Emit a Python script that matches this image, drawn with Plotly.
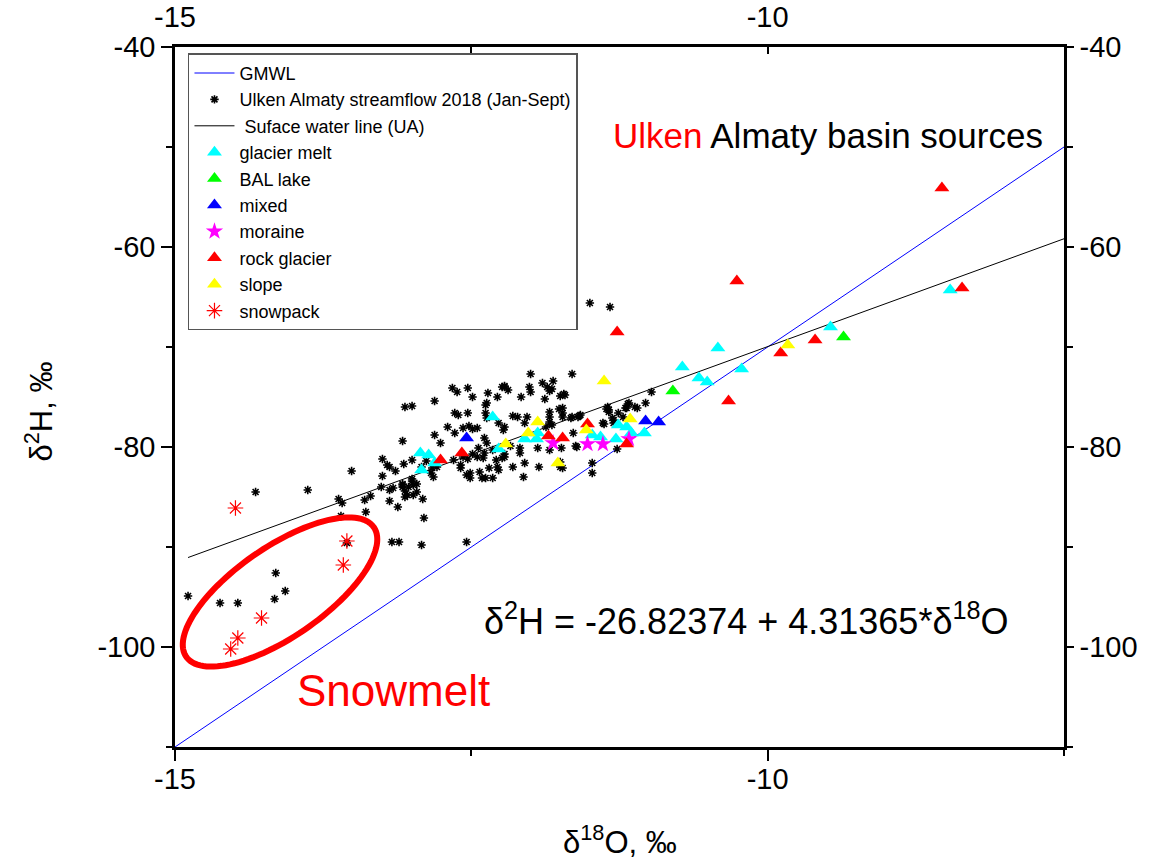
import numpy as np
import plotly.graph_objects as go

# ---------------- data ----------------
gmwl_slope, gmwl_intercept = 8.0, 10.0
gmwl_x = [-15.0, -7.5]

sw_slope, sw_intercept = 4.31365, -26.82374
sw_x = [-14.89, -7.5]

sf_x = [
    -14.89, -14.62, -14.47, -14.32, -14.16, -14.15, -14.07, -13.88, -13.62, -13.59,
    -13.60, -13.55, -13.51, -13.40, -13.35, -13.39, -13.26, -13.25, -13.25, -13.21,
    -13.19, -13.14, -13.19, -13.16, -13.19, -13.12, -13.17, -13.11, -13.08, -13.08,
    -13.06, -13.04, -13.03, -13.00, -12.96, -12.96, -12.91, -12.90, -13.08, -13.06,
    -13.00, -12.81, -13.07, -13.00, -12.92, -12.88, -12.81, -12.76, -12.70, -12.64,
    -12.66, -12.62, -12.53, -12.64, -12.61, -12.53, -12.57, -12.59, -12.59, -12.54,
    -12.84, -12.82, -12.79, -12.83, -12.92, -12.54, -12.65, -12.49, -12.36, -12.28,
    -12.22, -12.19, -12.37, -12.38, -12.38, -12.37, -12.27, -12.22, -12.23, -12.52,
    -12.49, -12.45, -12.39, -12.37, -12.44, -12.49, -12.45, -12.39, -12.40, -12.32,
    -12.29, -12.24, -12.22, -13.08, -12.99, -13.00, -12.51, -12.41, -12.38, -12.32,
    -12.27, -12.28, -12.35, -12.00, -11.65, -12.22, -12.01, -12.00, -12.08, -11.90,
    -11.86, -11.84, -11.82, -11.75, -11.72, -11.88, -11.76, -11.73, -11.84, -11.84,
    -12.15, -12.11, -12.03, -12.05, -11.84, -11.82, -11.87, -11.66, -11.59, -11.35,
    -11.34, -11.26, -11.19, -11.38, -11.30, -11.64, -12.09, -12.09, -12.17, -11.94,
    -11.84, -11.74, -11.62, -12.15, -12.05, -11.93, -11.75, -11.75, -11.73, -12.06,
    -11.48, -11.48, -12.22, -11.50, -11.33, -11.71, -11.73, -11.73, -11.65, -11.60,
    -11.58, -11.34, -11.20, -11.18, -11.10, -11.03, -10.98, -11.31, -11.22, -11.27,
    -11.61, -11.81, -12.24, -11.12, -11.17, -11.36, -11.39, -11.30,
    -12.99, -13.06, -12.51, -12.43, -12.53, -12.57,
]
sf_y = [
    -94.9, -95.6, -95.6, -84.5, -95.2, -92.6, -94.4, -84.3, -85.2, -85.6,
    -86.9, -89.6, -82.4, -85.3, -84.9, -86.5, -84.0, -82.9, -81.2, -81.8,
    -82.0, -82.4, -84.3, -84.1, -85.4, -86.0, -89.5, -89.5, -83.7, -84.0,
    -84.4, -84.8, -84.0, -83.4, -83.7, -84.5, -85.2, -87.1, -79.4, -76.0,
    -75.9, -75.4, -81.7, -81.3, -82.0, -81.4, -78.8, -79.6, -78.0, -78.6,
    -74.1, -74.5, -74.1, -76.6, -76.8, -76.6, -78.1, -81.8, -82.1, -82.8,
    -82.6, -83.0, -82.0, -82.1, -89.8, -89.5, -81.3, -75.0, -74.6, -75.0,
    -74.0, -74.3, -75.6, -75.8, -76.6, -77.1, -77.6, -78.0, -78.3, -77.9,
    -78.2, -78.1, -79.1, -79.6, -80.1, -80.7, -81.0, -80.6, -81.1, -80.3,
    -81.3, -81.1, -80.7, -83.8, -83.8, -83.2, -83.1, -83.1, -83.1, -83.1,
    -82.3, -82.0, -82.1, -72.7, -72.7, -73.9, -74.0, -74.5, -75.0, -73.6,
    -74.0, -74.4, -74.2, -74.9, -74.7, -75.2, -76.2, -76.6, -76.5, -77.0,
    -76.9, -77.0, -77.0, -77.6, -77.5, -77.8, -78.0, -77.1, -76.9, -76.0,
    -76.5, -76.6, -76.1, -77.7, -77.3, -78.6, -80.1, -80.6, -79.9, -80.1,
    -80.3, -80.1, -79.9, -82.0, -81.6, -82.0, -81.5, -82.0, -82.1, -83.0,
    -81.6, -82.6, -81.0, -65.6, -66.0, -74.8, -76.1, -77.0, -77.0, -77.0,
    -76.8, -76.3, -76.1, -75.7, -76.1, -75.6, -74.5, -77.1, -77.0, -80.2,
    -80.0, -73.4, -74.0, -76.0, -75.6, -76.2, -77.6, -77.6,
    -84.8, -85.0, -82.6, -82.5, -81.2, -81.0,
]

glacier_x = [-12.93, -12.86, -12.92, -12.81, -12.32, -12.27, -12.05, -11.95, -11.94, -11.48,
             -11.41, -11.28, -11.26, -11.19, -11.15, -11.04, -10.72, -10.58, -10.51, -10.42,
             -10.22, -9.47, -8.46]
glacier_y = [-80.6, -80.8, -82.3, -81.6, -77.0, -80.2, -79.2, -79.2, -78.6, -78.8,
             -79.0, -79.2, -77.8, -78.0, -78.6, -78.6, -72.0, -73.1, -73.5, -70.1,
             -72.2, -68.0, -64.3]

bal_x = [-10.80, -9.36]
bal_y = [-74.4, -69.0]

mixed_x = [-12.54, -11.03, -10.92]
mixed_y = [-79.1, -77.4, -77.5]

moraine_x = [-11.81, -11.52, -11.39, -11.17]
moraine_y = [-79.6, -79.7, -79.7, -79.2]

rock_x = [-12.76, -12.58, -11.85, -11.73, -11.52, -11.19, -11.27, -10.26, -10.33, -9.89,
          -9.60, -8.53, -8.36]
rock_y = [-81.3, -80.6, -78.9, -79.1, -77.7, -79.7, -68.5, -63.4, -75.4, -70.6,
          -69.3, -54.1, -64.1]

slope_x = [-11.38, -12.21, -12.02, -11.94, -11.77, -11.53, -11.16, -9.83]
slope_y = [-73.4, -79.7, -78.6, -77.5, -81.6, -78.3, -77.2, -69.8]

snow_x = [-14.49, -13.55, -13.58, -14.27, -14.47, -14.53]
snow_y = [-86.1, -89.4, -91.8, -97.1, -99.1, -100.2]

x_tick_vals = [-15, -10]
x_tick_text = ["-15", "-10"]
y_tick_vals = [-40, -60, -80, -100]
y_tick_text = ["-40", "-60", "-80", "-100"]

FONT = "Arial, Liberation Sans, sans-serif"

fig = go.Figure()

gx = np.array(gmwl_x)
fig.add_trace(go.Scatter(x=gx, y=gmwl_slope * gx + gmwl_intercept, mode="lines",
                         line=dict(color="#0000FF", width=1), name="GMWL", legendrank=1))
sx = np.array(sw_x)
fig.add_trace(go.Scatter(x=sx, y=sw_slope * sx + sw_intercept, mode="lines",
                         line=dict(color="black", width=1), name=" Suface water line (UA)",
                         legendrank=3))
fig.add_trace(go.Scatter(x=sf_x, y=sf_y, mode="markers", name="Ulken Almaty streamflow 2018 (Jan-Sept)",
                         marker=dict(symbol="asterisk-open", size=7, color="black",
                                     line=dict(color="black", width=1.6)),
                         legendrank=2))

def tri(xs, ys, color, name, rank):
    fig.add_trace(go.Scatter(x=xs, y=ys, mode="markers", name=name, legendrank=rank,
                             marker=dict(symbol="triangle-up", size=13, color=color,
                                         line=dict(width=0))))

tri(glacier_x, glacier_y, "#00FFFF", "glacier melt", 4)
tri(bal_x, bal_y, "#00FF00", "BAL lake", 5)
tri(mixed_x, mixed_y, "#0000FF", "mixed", 6)
fig.add_trace(go.Scatter(x=moraine_x, y=moraine_y, mode="markers", name="moraine", legendrank=7,
                         marker=dict(symbol="star", size=13, color="#FF00FF", line=dict(width=0))))
tri(rock_x, rock_y, "#FF0000", "rock glacier", 8)
tri(slope_x, slope_y, "#FFFF00", "slope", 9)
fig.add_trace(go.Scatter(x=snow_x, y=snow_y, mode="markers", name="snowpack", legendrank=10,
                         marker=dict(symbol="asterisk-open", size=13, color="#FF0000",
                                     line=dict(color="#FF0000", width=1.2))))

# dummy trace to activate the mirrored axes
fig.add_trace(go.Scatter(x=[None], y=[None], xaxis="x2", yaxis="y2", showlegend=False,
                         hoverinfo="skip", mode="markers"))

# snowmelt ellipse (pixel-scaled ellipse expressed in data units)
px_per_x, px_per_y = 889 / 7.5, 700 / 70.0
cx, cy = -14.114, -94.5
a_px, b_px, theta = 114.0, 45.0, np.deg2rad(34.6)
t = np.linspace(0, 2 * np.pi, 120)
dx = a_px * np.cos(t) * np.cos(theta) - b_px * np.sin(t) * np.sin(theta)
dy = a_px * np.cos(t) * np.sin(theta) + b_px * np.sin(t) * np.cos(theta)
ex = cx + dx / px_per_x
ey = cy + dy / px_per_y
path = "M " + " L ".join(f"{x:.4f},{y:.4f}" for x, y in zip(ex, ey)) + " Z"
fig.add_shape(type="path", path=path, xref="x", yref="y",
              line=dict(color="#FF0000", width=6), fillcolor="rgba(0,0,0,0)")

axis_common = dict(showgrid=False, zeroline=False, showline=True, linecolor="black",
                   linewidth=2.5, tickcolor="black", tickwidth=2, automargin=False,
                   tickfont=dict(family=FONT, size=29, color="black"))

fig.update_layout(
    width=1150, height=859, autosize=False,
    margin=dict(l=175, r=86, t=47, b=112, autoexpand=False),
    plot_bgcolor="white", paper_bgcolor="white",
    font=dict(family=FONT, color="black"),
    xaxis=dict(range=[-15, -7.5], tickmode="array", tickvals=x_tick_vals, ticktext=x_tick_text,
               ticks="outside", ticklen=11, ticklabelstandoff=-7,
               minor=dict(tick0=-15, dtick=2.5, ticks="outside", ticklen=6, tickwidth=2,
                          tickcolor="black"),
               **axis_common),
    xaxis2=dict(range=[-15, -7.5], overlaying="x", side="top", anchor="y2",
                tickmode="array", tickvals=x_tick_vals, ticktext=x_tick_text,
                ticks="inside", ticklen=7, ticklabelstandoff=6,
                minor=dict(tick0=-15, dtick=2.5, ticks="inside", ticklen=6, tickwidth=2,
                           tickcolor="black"),
                **axis_common),
    yaxis=dict(range=[-110, -40], tickmode="array", tickvals=y_tick_vals, ticktext=y_tick_text,
               ticks="outside", ticklen=11, ticklabelstandoff=0,
               minor=dict(tick0=-40, dtick=10, ticks="outside", ticklen=6, tickwidth=2,
                          tickcolor="black"),
               **axis_common),
    yaxis2=dict(range=[-110, -40], overlaying="y", side="right", anchor="x2",
                tickmode="array", tickvals=y_tick_vals, ticktext=y_tick_text,
                ticks="outside", ticklen=7,
                minor=dict(tick0=-40, dtick=10, ticks="outside", ticklen=6, tickwidth=2,
                           tickcolor="black"),
                **axis_common),
    legend=dict(x=0.0146, y=0.991, xanchor="left", yanchor="top",
                bgcolor="white", bordercolor="#555555", borderwidth=1.5,
                font=dict(family=FONT, size=18, color="black"),
                itemwidth=40, tracegroupgap=0),
    showlegend=True,
)

fig.add_annotation(x=0.5, y=-0.164, xref="paper", yref="paper", showarrow=False,
                   text="δ<sup>18</sup>O, ‰", font=dict(family=FONT, size=31, color="black"))
fig.add_annotation(x=-0.178, y=0.479, xref="paper", yref="paper", showarrow=False,
                   textangle=-90, text="δ<sup>2</sup>H, ‰",
                   font=dict(family=FONT, size=31, color="black"))
fig.add_annotation(x=-10.18, y=-97.2, xref="x", yref="y", showarrow=False,
                   text="δ<sup>2</sup>H = -26.82374 + 4.31365*δ<sup>18</sup>O",
                   font=dict(family=FONT, size=36, color="black"))
fig.add_annotation(x=-9.49, y=-48.8, xref="x", yref="y", showarrow=False,
                   text="<span style='color:#FF0000'>Ulken</span> Almaty basin sources",
                   font=dict(family=FONT, size=35, color="black"))
fig.add_annotation(x=-13.16, y=-104.3, xref="x", yref="y", showarrow=False,
                   text="Snowmelt", font=dict(family=FONT, size=44, color="#FF0000"))

fig.write_html("out.html", config={"displayModeBar": False},
               post_script="document.body.style.margin='0';document.body.style.overflow='hidden';")
